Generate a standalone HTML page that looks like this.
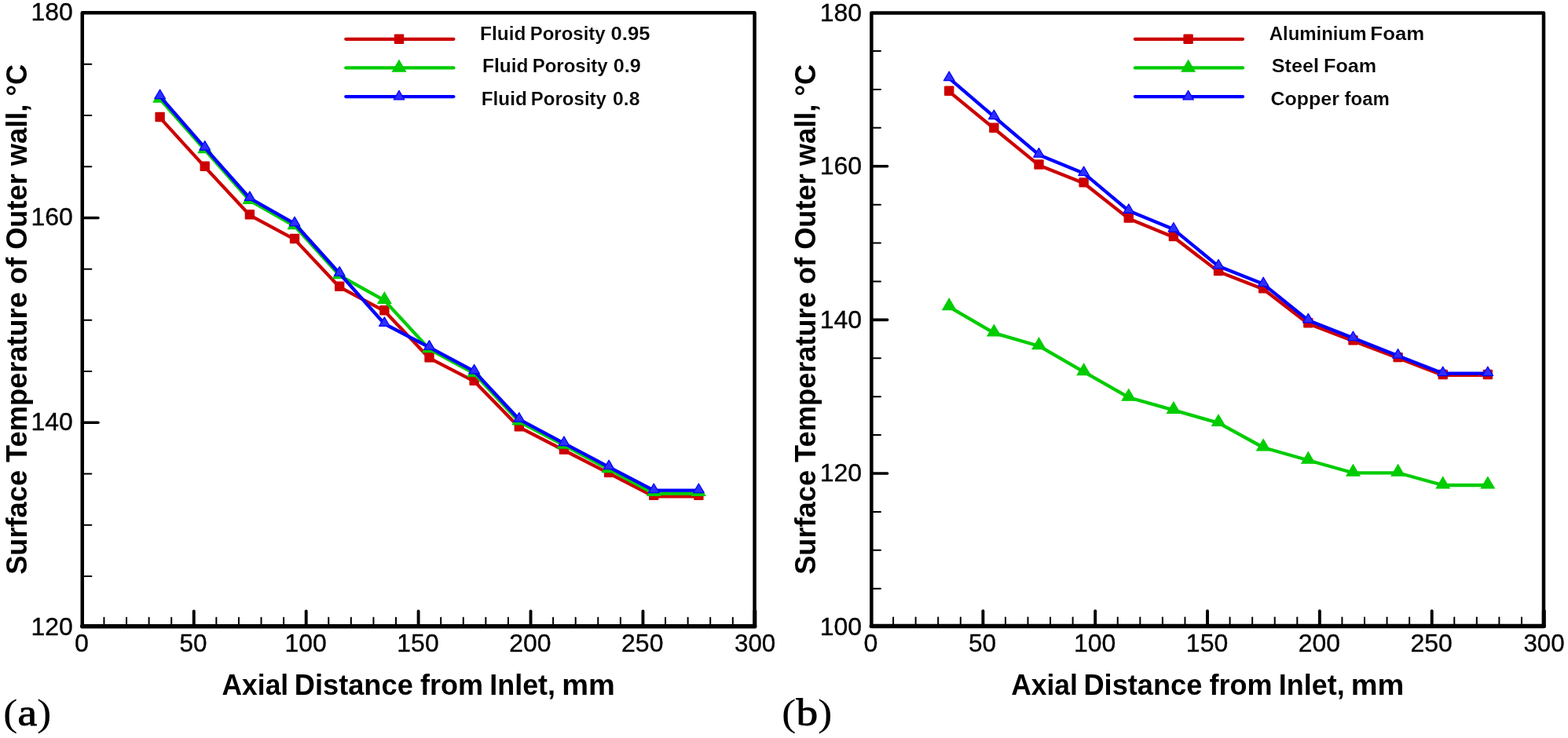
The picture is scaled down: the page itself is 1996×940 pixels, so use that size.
<!DOCTYPE html>
<html><head><meta charset="utf-8"><title>Surface temperature vs axial distance</title>
<style>
html,body{margin:0;padding:0;background:#fff;width:1996px;height:940px;overflow:hidden}
svg{display:block}
text{fill:#000}
</style></head>
<body>
<svg width="1996" height="940" viewBox="0 0 1996 940">
<rect width="1996" height="940" fill="#fff"/>
<line x1="104.75" y1="733.89" x2="116.35" y2="733.89" stroke="#000" stroke-width="2" stroke-linecap="round"/>
<line x1="104.75" y1="668.68" x2="116.35" y2="668.68" stroke="#000" stroke-width="2" stroke-linecap="round"/>
<line x1="104.75" y1="603.48" x2="116.35" y2="603.48" stroke="#000" stroke-width="2" stroke-linecap="round"/>
<line x1="104.75" y1="538.27" x2="124.95" y2="538.27" stroke="#000" stroke-width="3.6" stroke-linecap="round"/>
<line x1="104.75" y1="473.07" x2="116.35" y2="473.07" stroke="#000" stroke-width="2" stroke-linecap="round"/>
<line x1="104.75" y1="407.86" x2="116.35" y2="407.86" stroke="#000" stroke-width="2" stroke-linecap="round"/>
<line x1="104.75" y1="342.66" x2="116.35" y2="342.66" stroke="#000" stroke-width="2" stroke-linecap="round"/>
<line x1="104.75" y1="277.45" x2="124.95" y2="277.45" stroke="#000" stroke-width="3.6" stroke-linecap="round"/>
<line x1="104.75" y1="212.25" x2="116.35" y2="212.25" stroke="#000" stroke-width="2" stroke-linecap="round"/>
<line x1="104.75" y1="147.04" x2="116.35" y2="147.04" stroke="#000" stroke-width="2" stroke-linecap="round"/>
<line x1="104.75" y1="81.84" x2="116.35" y2="81.84" stroke="#000" stroke-width="2" stroke-linecap="round"/>
<line x1="132.44" y1="797.7" x2="132.44" y2="786.8" stroke="#000" stroke-width="2" stroke-linecap="round"/>
<line x1="161.03" y1="797.7" x2="161.03" y2="786.8" stroke="#000" stroke-width="2" stroke-linecap="round"/>
<line x1="189.61" y1="797.7" x2="189.61" y2="786.8" stroke="#000" stroke-width="2" stroke-linecap="round"/>
<line x1="218.2" y1="797.7" x2="218.2" y2="786.8" stroke="#000" stroke-width="2" stroke-linecap="round"/>
<line x1="246.78" y1="797.7" x2="246.78" y2="778.4" stroke="#000" stroke-width="3.9" stroke-linecap="round"/>
<line x1="275.36" y1="797.7" x2="275.36" y2="786.8" stroke="#000" stroke-width="2" stroke-linecap="round"/>
<line x1="303.95" y1="797.7" x2="303.95" y2="786.8" stroke="#000" stroke-width="2" stroke-linecap="round"/>
<line x1="332.53" y1="797.7" x2="332.53" y2="786.8" stroke="#000" stroke-width="2" stroke-linecap="round"/>
<line x1="361.12" y1="797.7" x2="361.12" y2="786.8" stroke="#000" stroke-width="2" stroke-linecap="round"/>
<line x1="389.7" y1="797.7" x2="389.7" y2="778.4" stroke="#000" stroke-width="3.9" stroke-linecap="round"/>
<line x1="418.28" y1="797.7" x2="418.28" y2="786.8" stroke="#000" stroke-width="2" stroke-linecap="round"/>
<line x1="446.87" y1="797.7" x2="446.87" y2="786.8" stroke="#000" stroke-width="2" stroke-linecap="round"/>
<line x1="475.45" y1="797.7" x2="475.45" y2="786.8" stroke="#000" stroke-width="2" stroke-linecap="round"/>
<line x1="504.04" y1="797.7" x2="504.04" y2="786.8" stroke="#000" stroke-width="2" stroke-linecap="round"/>
<line x1="532.62" y1="797.7" x2="532.62" y2="778.4" stroke="#000" stroke-width="3.9" stroke-linecap="round"/>
<line x1="561.2" y1="797.7" x2="561.2" y2="786.8" stroke="#000" stroke-width="2" stroke-linecap="round"/>
<line x1="589.79" y1="797.7" x2="589.79" y2="786.8" stroke="#000" stroke-width="2" stroke-linecap="round"/>
<line x1="618.37" y1="797.7" x2="618.37" y2="786.8" stroke="#000" stroke-width="2" stroke-linecap="round"/>
<line x1="646.96" y1="797.7" x2="646.96" y2="786.8" stroke="#000" stroke-width="2" stroke-linecap="round"/>
<line x1="675.54" y1="797.7" x2="675.54" y2="778.4" stroke="#000" stroke-width="3.9" stroke-linecap="round"/>
<line x1="704.12" y1="797.7" x2="704.12" y2="786.8" stroke="#000" stroke-width="2" stroke-linecap="round"/>
<line x1="732.71" y1="797.7" x2="732.71" y2="786.8" stroke="#000" stroke-width="2" stroke-linecap="round"/>
<line x1="761.29" y1="797.7" x2="761.29" y2="786.8" stroke="#000" stroke-width="2" stroke-linecap="round"/>
<line x1="789.88" y1="797.7" x2="789.88" y2="786.8" stroke="#000" stroke-width="2" stroke-linecap="round"/>
<line x1="818.46" y1="797.7" x2="818.46" y2="778.4" stroke="#000" stroke-width="3.9" stroke-linecap="round"/>
<line x1="847.04" y1="797.7" x2="847.04" y2="786.8" stroke="#000" stroke-width="2" stroke-linecap="round"/>
<line x1="875.63" y1="797.7" x2="875.63" y2="786.8" stroke="#000" stroke-width="2" stroke-linecap="round"/>
<line x1="904.21" y1="797.7" x2="904.21" y2="786.8" stroke="#000" stroke-width="2" stroke-linecap="round"/>
<line x1="932.8" y1="797.7" x2="932.8" y2="786.8" stroke="#000" stroke-width="2" stroke-linecap="round"/>
<line x1="960.85" y1="797.7" x2="960.85" y2="778.4" stroke="#000" stroke-width="5" stroke-linecap="round"/>
<path d="M104.75 16.3H960.55V797.7H104.75Z" fill="none" stroke="#000" stroke-width="4.5" stroke-linejoin="round"/>
<line x1="104.75" y1="797.7" x2="960.55" y2="797.7" stroke="#000" stroke-width="5.6" stroke-linecap="round"/>
<polyline points="203.61,149.9 260.76,212.6 317.91,274.1 375.06,304.9 432.21,365.7 489.36,396.1 546.51,456.2 603.66,485.6 660.81,544.2 717.96,573.5 775.11,602.8 832.26,632.3 889.41,632.3" fill="none" stroke="#cc0000" stroke-width="4.3" stroke-linejoin="round" stroke-linecap="round"/>
<rect x="197.41" y="142.8" width="12.4" height="12.4" rx="1" fill="#cc0000"/>
<rect x="254.56" y="205.5" width="12.4" height="12.4" rx="1" fill="#cc0000"/>
<rect x="311.71" y="267" width="12.4" height="12.4" rx="1" fill="#cc0000"/>
<rect x="368.86" y="297.8" width="12.4" height="12.4" rx="1" fill="#cc0000"/>
<rect x="426.01" y="358.6" width="12.4" height="12.4" rx="1" fill="#cc0000"/>
<rect x="483.16" y="389" width="12.4" height="12.4" rx="1" fill="#cc0000"/>
<rect x="540.31" y="449.1" width="12.4" height="12.4" rx="1" fill="#cc0000"/>
<rect x="597.46" y="478.5" width="12.4" height="12.4" rx="1" fill="#cc0000"/>
<rect x="654.61" y="537.1" width="12.4" height="12.4" rx="1" fill="#cc0000"/>
<rect x="711.76" y="566.4" width="12.4" height="12.4" rx="1" fill="#cc0000"/>
<rect x="768.91" y="595.7" width="12.4" height="12.4" rx="1" fill="#cc0000"/>
<rect x="826.06" y="624.6" width="12.4" height="12.4" rx="1" fill="#cc0000"/>
<rect x="883.21" y="624.6" width="12.4" height="12.4" rx="1" fill="#cc0000"/>
<polyline points="203.61,126.2 260.76,190.8 317.91,255.5 375.06,287.8 432.21,350.8 489.36,382.6 546.51,444.8 603.66,475.7 660.81,537 717.96,567.2 775.11,597.7 832.26,628.5 889.41,628.5" fill="none" stroke="#00cc00" stroke-width="4.3" stroke-linejoin="round" stroke-linecap="round"/>
<polygon points="203.61,114.5 194.11,130.7 213.11,130.7" fill="#00cc00"/>
<polygon points="260.76,179.1 251.26,195.3 270.26,195.3" fill="#00cc00"/>
<polygon points="317.91,243.8 308.41,260 327.41,260" fill="#00cc00"/>
<polygon points="375.06,276.1 365.56,292.3 384.56,292.3" fill="#00cc00"/>
<polygon points="432.21,339.1 422.71,355.3 441.71,355.3" fill="#00cc00"/>
<polygon points="489.36,370.9 479.86,387.1 498.86,387.1" fill="#00cc00"/>
<polygon points="546.51,433.1 537.01,449.3 556.01,449.3" fill="#00cc00"/>
<polygon points="603.66,464 594.16,480.2 613.16,480.2" fill="#00cc00"/>
<polygon points="660.81,525.3 651.31,541.5 670.31,541.5" fill="#00cc00"/>
<polygon points="717.96,555.5 708.46,571.7 727.46,571.7" fill="#00cc00"/>
<polygon points="775.11,586 765.61,602.2 784.61,602.2" fill="#00cc00"/>
<polygon points="832.26,615.9 822.76,632.1 841.76,632.1" fill="#00cc00"/>
<polygon points="889.41,615.7 879.91,631.9 898.91,631.9" fill="#00cc00"/>
<polyline points="203.61,122.7 260.76,188.2 317.91,252.5 375.06,284.8 432.21,348.3 489.36,412.5 546.51,442.3 603.66,472.9 660.81,534.2 717.96,564.6 775.11,594.8 832.26,624.6 889.41,624.6" fill="none" stroke="#0000ff" stroke-width="4.3" stroke-linejoin="round" stroke-linecap="round"/>
<polygon points="203.61,114.07 196.81,125.67 210.41,125.67" fill="#2e2eff" stroke="#0000ff" stroke-width="1.2" stroke-linejoin="round"/>
<polygon points="260.76,179.57 253.96,191.17 267.56,191.17" fill="#2e2eff" stroke="#0000ff" stroke-width="1.2" stroke-linejoin="round"/>
<polygon points="317.91,243.87 311.11,255.47 324.71,255.47" fill="#2e2eff" stroke="#0000ff" stroke-width="1.2" stroke-linejoin="round"/>
<polygon points="375.06,276.17 368.26,287.77 381.86,287.77" fill="#2e2eff" stroke="#0000ff" stroke-width="1.2" stroke-linejoin="round"/>
<polygon points="432.21,339.67 425.41,351.27 439.01,351.27" fill="#2e2eff" stroke="#0000ff" stroke-width="1.2" stroke-linejoin="round"/>
<polygon points="489.36,403.87 482.56,415.47 496.16,415.47" fill="#2e2eff" stroke="#0000ff" stroke-width="1.2" stroke-linejoin="round"/>
<polygon points="546.51,433.67 539.71,445.27 553.31,445.27" fill="#2e2eff" stroke="#0000ff" stroke-width="1.2" stroke-linejoin="round"/>
<polygon points="603.66,464.27 596.86,475.87 610.46,475.87" fill="#2e2eff" stroke="#0000ff" stroke-width="1.2" stroke-linejoin="round"/>
<polygon points="660.81,525.57 654.01,537.17 667.61,537.17" fill="#2e2eff" stroke="#0000ff" stroke-width="1.2" stroke-linejoin="round"/>
<polygon points="717.96,555.97 711.16,567.57 724.76,567.57" fill="#2e2eff" stroke="#0000ff" stroke-width="1.2" stroke-linejoin="round"/>
<polygon points="775.11,586.17 768.31,597.77 781.91,597.77" fill="#2e2eff" stroke="#0000ff" stroke-width="1.2" stroke-linejoin="round"/>
<polygon points="832.26,615.97 825.46,627.57 839.06,627.57" fill="#2e2eff" stroke="#0000ff" stroke-width="1.2" stroke-linejoin="round"/>
<polygon points="889.41,615.97 882.61,627.57 896.21,627.57" fill="#2e2eff" stroke="#0000ff" stroke-width="1.2" stroke-linejoin="round"/>
<line x1="440.3" y1="49.8" x2="577.4" y2="49.8" stroke="#cc0000" stroke-width="4.3" stroke-linecap="round"/>
<rect x="501.8" y="43.6" width="12.4" height="12.4" rx="1" fill="#cc0000"/>
<line x1="440.3" y1="86.4" x2="577.4" y2="86.4" stroke="#00cc00" stroke-width="4.3" stroke-linecap="round"/>
<polygon points="508,75.6 498.5,91.8 517.5,91.8" fill="#00cc00"/>
<line x1="440.3" y1="123.1" x2="577.4" y2="123.1" stroke="#0000ff" stroke-width="4.3" stroke-linecap="round"/>
<polygon points="508,115.37 501.2,126.97 514.8,126.97" fill="#2e2eff" stroke="#0000ff" stroke-width="1.2" stroke-linejoin="round"/>
<line x1="1109.35" y1="749.74" x2="1120.95" y2="749.74" stroke="#000" stroke-width="2" stroke-linecap="round"/>
<line x1="1109.35" y1="700.83" x2="1120.95" y2="700.83" stroke="#000" stroke-width="2" stroke-linecap="round"/>
<line x1="1109.35" y1="651.92" x2="1120.95" y2="651.92" stroke="#000" stroke-width="2" stroke-linecap="round"/>
<line x1="1109.35" y1="603.02" x2="1129.55" y2="603.02" stroke="#000" stroke-width="3.6" stroke-linecap="round"/>
<line x1="1109.35" y1="554.12" x2="1120.95" y2="554.12" stroke="#000" stroke-width="2" stroke-linecap="round"/>
<line x1="1109.35" y1="505.21" x2="1120.95" y2="505.21" stroke="#000" stroke-width="2" stroke-linecap="round"/>
<line x1="1109.35" y1="456.3" x2="1120.95" y2="456.3" stroke="#000" stroke-width="2" stroke-linecap="round"/>
<line x1="1109.35" y1="407.4" x2="1129.55" y2="407.4" stroke="#000" stroke-width="3.6" stroke-linecap="round"/>
<line x1="1109.35" y1="358.5" x2="1120.95" y2="358.5" stroke="#000" stroke-width="2" stroke-linecap="round"/>
<line x1="1109.35" y1="309.59" x2="1120.95" y2="309.59" stroke="#000" stroke-width="2" stroke-linecap="round"/>
<line x1="1109.35" y1="260.68" x2="1120.95" y2="260.68" stroke="#000" stroke-width="2" stroke-linecap="round"/>
<line x1="1109.35" y1="211.78" x2="1129.55" y2="211.78" stroke="#000" stroke-width="3.6" stroke-linecap="round"/>
<line x1="1109.35" y1="162.87" x2="1120.95" y2="162.87" stroke="#000" stroke-width="2" stroke-linecap="round"/>
<line x1="1109.35" y1="113.97" x2="1120.95" y2="113.97" stroke="#000" stroke-width="2" stroke-linecap="round"/>
<line x1="1109.35" y1="65.06" x2="1120.95" y2="65.06" stroke="#000" stroke-width="2" stroke-linecap="round"/>
<line x1="1137.07" y1="797.5" x2="1137.07" y2="786.6" stroke="#000" stroke-width="2" stroke-linecap="round"/>
<line x1="1165.64" y1="797.5" x2="1165.64" y2="786.6" stroke="#000" stroke-width="2" stroke-linecap="round"/>
<line x1="1194.2" y1="797.5" x2="1194.2" y2="786.6" stroke="#000" stroke-width="2" stroke-linecap="round"/>
<line x1="1222.77" y1="797.5" x2="1222.77" y2="786.6" stroke="#000" stroke-width="2" stroke-linecap="round"/>
<line x1="1251.34" y1="797.5" x2="1251.34" y2="778.2" stroke="#000" stroke-width="3.9" stroke-linecap="round"/>
<line x1="1279.91" y1="797.5" x2="1279.91" y2="786.6" stroke="#000" stroke-width="2" stroke-linecap="round"/>
<line x1="1308.48" y1="797.5" x2="1308.48" y2="786.6" stroke="#000" stroke-width="2" stroke-linecap="round"/>
<line x1="1337.04" y1="797.5" x2="1337.04" y2="786.6" stroke="#000" stroke-width="2" stroke-linecap="round"/>
<line x1="1365.61" y1="797.5" x2="1365.61" y2="786.6" stroke="#000" stroke-width="2" stroke-linecap="round"/>
<line x1="1394.18" y1="797.5" x2="1394.18" y2="778.2" stroke="#000" stroke-width="3.9" stroke-linecap="round"/>
<line x1="1422.75" y1="797.5" x2="1422.75" y2="786.6" stroke="#000" stroke-width="2" stroke-linecap="round"/>
<line x1="1451.32" y1="797.5" x2="1451.32" y2="786.6" stroke="#000" stroke-width="2" stroke-linecap="round"/>
<line x1="1479.88" y1="797.5" x2="1479.88" y2="786.6" stroke="#000" stroke-width="2" stroke-linecap="round"/>
<line x1="1508.45" y1="797.5" x2="1508.45" y2="786.6" stroke="#000" stroke-width="2" stroke-linecap="round"/>
<line x1="1537.02" y1="797.5" x2="1537.02" y2="778.2" stroke="#000" stroke-width="3.9" stroke-linecap="round"/>
<line x1="1565.59" y1="797.5" x2="1565.59" y2="786.6" stroke="#000" stroke-width="2" stroke-linecap="round"/>
<line x1="1594.16" y1="797.5" x2="1594.16" y2="786.6" stroke="#000" stroke-width="2" stroke-linecap="round"/>
<line x1="1622.72" y1="797.5" x2="1622.72" y2="786.6" stroke="#000" stroke-width="2" stroke-linecap="round"/>
<line x1="1651.29" y1="797.5" x2="1651.29" y2="786.6" stroke="#000" stroke-width="2" stroke-linecap="round"/>
<line x1="1679.86" y1="797.5" x2="1679.86" y2="778.2" stroke="#000" stroke-width="3.9" stroke-linecap="round"/>
<line x1="1708.43" y1="797.5" x2="1708.43" y2="786.6" stroke="#000" stroke-width="2" stroke-linecap="round"/>
<line x1="1737" y1="797.5" x2="1737" y2="786.6" stroke="#000" stroke-width="2" stroke-linecap="round"/>
<line x1="1765.56" y1="797.5" x2="1765.56" y2="786.6" stroke="#000" stroke-width="2" stroke-linecap="round"/>
<line x1="1794.13" y1="797.5" x2="1794.13" y2="786.6" stroke="#000" stroke-width="2" stroke-linecap="round"/>
<line x1="1822.7" y1="797.5" x2="1822.7" y2="778.2" stroke="#000" stroke-width="3.9" stroke-linecap="round"/>
<line x1="1851.27" y1="797.5" x2="1851.27" y2="786.6" stroke="#000" stroke-width="2" stroke-linecap="round"/>
<line x1="1879.84" y1="797.5" x2="1879.84" y2="786.6" stroke="#000" stroke-width="2" stroke-linecap="round"/>
<line x1="1908.4" y1="797.5" x2="1908.4" y2="786.6" stroke="#000" stroke-width="2" stroke-linecap="round"/>
<line x1="1936.97" y1="797.5" x2="1936.97" y2="786.6" stroke="#000" stroke-width="2" stroke-linecap="round"/>
<line x1="1965.3" y1="797.5" x2="1965.3" y2="778.2" stroke="#000" stroke-width="5" stroke-linecap="round"/>
<path d="M1109.35 16.4H1965V797.5H1109.35Z" fill="none" stroke="#000" stroke-width="4.5" stroke-linejoin="round"/>
<line x1="1109.35" y1="797.5" x2="1965" y2="797.5" stroke="#000" stroke-width="5.6" stroke-linecap="round"/>
<polyline points="1208.2,116.6 1265.34,163.7 1322.48,210.4 1379.62,233.3 1436.76,278.4 1493.89,302 1551.04,345.9 1608.18,368.2 1665.32,412.2 1722.45,434.3 1779.6,456 1836.74,477.9 1893.88,477.9" fill="none" stroke="#cc0000" stroke-width="4.3" stroke-linejoin="round" stroke-linecap="round"/>
<rect x="1202" y="109.5" width="12.4" height="12.4" rx="1" fill="#cc0000"/>
<rect x="1259.13" y="156.6" width="12.4" height="12.4" rx="1" fill="#cc0000"/>
<rect x="1316.28" y="203.3" width="12.4" height="12.4" rx="1" fill="#cc0000"/>
<rect x="1373.41" y="226.2" width="12.4" height="12.4" rx="1" fill="#cc0000"/>
<rect x="1430.56" y="271.3" width="12.4" height="12.4" rx="1" fill="#cc0000"/>
<rect x="1487.69" y="294.9" width="12.4" height="12.4" rx="1" fill="#cc0000"/>
<rect x="1544.84" y="338.8" width="12.4" height="12.4" rx="1" fill="#cc0000"/>
<rect x="1601.98" y="361.1" width="12.4" height="12.4" rx="1" fill="#cc0000"/>
<rect x="1659.12" y="405.1" width="12.4" height="12.4" rx="1" fill="#cc0000"/>
<rect x="1716.25" y="427.2" width="12.4" height="12.4" rx="1" fill="#cc0000"/>
<rect x="1773.4" y="448.9" width="12.4" height="12.4" rx="1" fill="#cc0000"/>
<rect x="1830.54" y="470.8" width="12.4" height="12.4" rx="1" fill="#cc0000"/>
<rect x="1887.67" y="470.8" width="12.4" height="12.4" rx="1" fill="#cc0000"/>
<polyline points="1208.2,390.8 1265.34,424.1 1322.48,440.7 1379.62,473.7 1436.76,506.2 1493.89,522.4 1551.04,538.6 1608.18,570 1665.32,586.2 1722.45,602.3 1779.6,602.3 1836.74,618 1893.88,618" fill="none" stroke="#00cc00" stroke-width="4.3" stroke-linejoin="round" stroke-linecap="round"/>
<polygon points="1208.2,379.1 1198.7,395.3 1217.7,395.3" fill="#00cc00"/>
<polygon points="1265.34,412.4 1255.84,428.6 1274.84,428.6" fill="#00cc00"/>
<polygon points="1322.48,429 1312.98,445.2 1331.98,445.2" fill="#00cc00"/>
<polygon points="1379.62,462 1370.12,478.2 1389.12,478.2" fill="#00cc00"/>
<polygon points="1436.76,494.5 1427.26,510.7 1446.26,510.7" fill="#00cc00"/>
<polygon points="1493.89,510.7 1484.39,526.9 1503.39,526.9" fill="#00cc00"/>
<polygon points="1551.04,526.9 1541.54,543.1 1560.54,543.1" fill="#00cc00"/>
<polygon points="1608.18,558.3 1598.68,574.5 1617.68,574.5" fill="#00cc00"/>
<polygon points="1665.32,574.5 1655.82,590.7 1674.82,590.7" fill="#00cc00"/>
<polygon points="1722.45,590.6 1712.95,606.8 1731.95,606.8" fill="#00cc00"/>
<polygon points="1779.6,590.6 1770.1,606.8 1789.1,606.8" fill="#00cc00"/>
<polygon points="1836.74,606.3 1827.24,622.5 1846.24,622.5" fill="#00cc00"/>
<polygon points="1893.88,606.3 1884.38,622.5 1903.38,622.5" fill="#00cc00"/>
<polyline points="1208.2,99.7 1265.34,148.7 1322.48,197.2 1379.62,220.7 1436.76,268.5 1493.89,292.1 1551.04,339.1 1608.18,361.8 1665.32,408 1722.45,430.6 1779.6,453.2 1836.74,475.6 1893.88,475.6" fill="none" stroke="#0000ff" stroke-width="4.3" stroke-linejoin="round" stroke-linecap="round"/>
<polygon points="1208.2,91.07 1201.4,102.67 1215,102.67" fill="#2e2eff" stroke="#0000ff" stroke-width="1.2" stroke-linejoin="round"/>
<polygon points="1265.34,140.07 1258.54,151.67 1272.13,151.67" fill="#2e2eff" stroke="#0000ff" stroke-width="1.2" stroke-linejoin="round"/>
<polygon points="1322.48,188.57 1315.68,200.17 1329.28,200.17" fill="#2e2eff" stroke="#0000ff" stroke-width="1.2" stroke-linejoin="round"/>
<polygon points="1379.62,212.07 1372.82,223.67 1386.41,223.67" fill="#2e2eff" stroke="#0000ff" stroke-width="1.2" stroke-linejoin="round"/>
<polygon points="1436.76,259.87 1429.96,271.47 1443.56,271.47" fill="#2e2eff" stroke="#0000ff" stroke-width="1.2" stroke-linejoin="round"/>
<polygon points="1493.89,283.47 1487.1,295.07 1500.69,295.07" fill="#2e2eff" stroke="#0000ff" stroke-width="1.2" stroke-linejoin="round"/>
<polygon points="1551.04,330.47 1544.24,342.07 1557.84,342.07" fill="#2e2eff" stroke="#0000ff" stroke-width="1.2" stroke-linejoin="round"/>
<polygon points="1608.18,353.17 1601.38,364.77 1614.98,364.77" fill="#2e2eff" stroke="#0000ff" stroke-width="1.2" stroke-linejoin="round"/>
<polygon points="1665.32,399.37 1658.52,410.97 1672.12,410.97" fill="#2e2eff" stroke="#0000ff" stroke-width="1.2" stroke-linejoin="round"/>
<polygon points="1722.45,421.97 1715.65,433.57 1729.25,433.57" fill="#2e2eff" stroke="#0000ff" stroke-width="1.2" stroke-linejoin="round"/>
<polygon points="1779.6,444.57 1772.8,456.17 1786.4,456.17" fill="#2e2eff" stroke="#0000ff" stroke-width="1.2" stroke-linejoin="round"/>
<polygon points="1836.74,466.97 1829.94,478.57 1843.54,478.57" fill="#2e2eff" stroke="#0000ff" stroke-width="1.2" stroke-linejoin="round"/>
<polygon points="1893.88,466.97 1887.08,478.57 1900.67,478.57" fill="#2e2eff" stroke="#0000ff" stroke-width="1.2" stroke-linejoin="round"/>
<line x1="1444.9" y1="49.8" x2="1582" y2="49.8" stroke="#cc0000" stroke-width="4.3" stroke-linecap="round"/>
<rect x="1506.4" y="43.6" width="12.4" height="12.4" rx="1" fill="#cc0000"/>
<line x1="1444.9" y1="86.4" x2="1582" y2="86.4" stroke="#00cc00" stroke-width="4.3" stroke-linecap="round"/>
<polygon points="1512.6,75.6 1503.1,91.8 1522.1,91.8" fill="#00cc00"/>
<line x1="1444.9" y1="123.1" x2="1582" y2="123.1" stroke="#0000ff" stroke-width="4.3" stroke-linecap="round"/>
<polygon points="1512.6,115.37 1505.8,126.97 1519.4,126.97" fill="#2e2eff" stroke="#0000ff" stroke-width="1.2" stroke-linejoin="round"/>
<text x="611" y="50.6" textLength="58.52" lengthAdjust="spacingAndGlyphs" style="font-family:&quot;Liberation Sans&quot;,sans-serif;font-size:24.5px;font-weight:bold" stroke="#fff" stroke-width="0.15">Fluid</text>
<text x="674.64" y="50.6" textLength="96.09" lengthAdjust="spacingAndGlyphs" style="font-family:&quot;Liberation Sans&quot;,sans-serif;font-size:24.5px;font-weight:bold" stroke="#fff" stroke-width="0.15">Porosity</text>
<text x="777.55" y="50.6" textLength="50.07" lengthAdjust="spacingAndGlyphs" style="font-family:&quot;Liberation Sans&quot;,sans-serif;font-size:24.5px;font-weight:bold" stroke="#fff" stroke-width="0.15">0.95</text>
<text x="614" y="91.7" textLength="58.52" lengthAdjust="spacingAndGlyphs" style="font-family:&quot;Liberation Sans&quot;,sans-serif;font-size:24.5px;font-weight:bold" stroke="#fff" stroke-width="0.15">Fluid</text>
<text x="677.64" y="91.7" textLength="96.09" lengthAdjust="spacingAndGlyphs" style="font-family:&quot;Liberation Sans&quot;,sans-serif;font-size:24.5px;font-weight:bold" stroke="#fff" stroke-width="0.15">Porosity</text>
<text x="780.67" y="91.7" textLength="35.13" lengthAdjust="spacingAndGlyphs" style="font-family:&quot;Liberation Sans&quot;,sans-serif;font-size:24.5px;font-weight:bold" stroke="#fff" stroke-width="0.15">0.9</text>
<text x="612.82" y="133.8" textLength="57.88" lengthAdjust="spacingAndGlyphs" style="font-family:&quot;Liberation Sans&quot;,sans-serif;font-size:24.5px;font-weight:bold" stroke="#fff" stroke-width="0.15">Fluid</text>
<text x="675.84" y="133.8" textLength="96.09" lengthAdjust="spacingAndGlyphs" style="font-family:&quot;Liberation Sans&quot;,sans-serif;font-size:24.5px;font-weight:bold" stroke="#fff" stroke-width="0.15">Porosity</text>
<text x="780.09" y="133.8" textLength="34.49" lengthAdjust="spacingAndGlyphs" style="font-family:&quot;Liberation Sans&quot;,sans-serif;font-size:24.5px;font-weight:bold" stroke="#fff" stroke-width="0.15">0.8</text>
<text x="282.56" y="884.8" textLength="84.61" lengthAdjust="spacingAndGlyphs" style="font-family:&quot;Liberation Sans&quot;,sans-serif;font-size:37.6px;font-weight:bold">Axial</text>
<text x="374.81" y="884.8" textLength="150.99" lengthAdjust="spacingAndGlyphs" style="font-family:&quot;Liberation Sans&quot;,sans-serif;font-size:37.6px;font-weight:bold">Distance</text>
<text x="534.94" y="884.8" textLength="80.18" lengthAdjust="spacingAndGlyphs" style="font-family:&quot;Liberation Sans&quot;,sans-serif;font-size:37.6px;font-weight:bold">from</text>
<text x="623.23" y="884.8" textLength="83.85" lengthAdjust="spacingAndGlyphs" style="font-family:&quot;Liberation Sans&quot;,sans-serif;font-size:37.6px;font-weight:bold">Inlet,</text>
<text x="715.17" y="884.8" textLength="67.58" lengthAdjust="spacingAndGlyphs" style="font-family:&quot;Liberation Sans&quot;,sans-serif;font-size:37.6px;font-weight:bold">mm</text>
<text transform="translate(33.8,730.9) rotate(-90)" x="-0.96" y="0" textLength="649.94" lengthAdjust="spacingAndGlyphs" style="font-family:&quot;Liberation Sans&quot;,sans-serif;font-size:37.6px;font-weight:bold">Surface Temperature of Outer wall, °C</text>
<text x="39.57" y="808.54" textLength="53.31" lengthAdjust="spacingAndGlyphs" style="font-family:&quot;Liberation Sans&quot;,sans-serif;font-size:31.5px;font-weight:normal" stroke="#000" stroke-width="0.35">120</text>
<text x="39.57" y="547.72" textLength="53.31" lengthAdjust="spacingAndGlyphs" style="font-family:&quot;Liberation Sans&quot;,sans-serif;font-size:31.5px;font-weight:normal" stroke="#000" stroke-width="0.35">140</text>
<text x="39.57" y="286.9" textLength="53.31" lengthAdjust="spacingAndGlyphs" style="font-family:&quot;Liberation Sans&quot;,sans-serif;font-size:31.5px;font-weight:normal" stroke="#000" stroke-width="0.35">160</text>
<text x="39.57" y="26.08" textLength="53.31" lengthAdjust="spacingAndGlyphs" style="font-family:&quot;Liberation Sans&quot;,sans-serif;font-size:31.5px;font-weight:normal" stroke="#000" stroke-width="0.35">180</text>
<text x="94.93" y="829.7" textLength="17.88" lengthAdjust="spacingAndGlyphs" style="font-family:&quot;Liberation Sans&quot;,sans-serif;font-size:31.5px;font-weight:normal" stroke="#000" stroke-width="0.35">0</text>
<text x="228.47" y="829.7" textLength="35.05" lengthAdjust="spacingAndGlyphs" style="font-family:&quot;Liberation Sans&quot;,sans-serif;font-size:31.5px;font-weight:normal" stroke="#000" stroke-width="0.35">50</text>
<text x="362.47" y="829.7" textLength="53.31" lengthAdjust="spacingAndGlyphs" style="font-family:&quot;Liberation Sans&quot;,sans-serif;font-size:31.5px;font-weight:normal" stroke="#000" stroke-width="0.35">100</text>
<text x="505.35" y="829.7" textLength="53.31" lengthAdjust="spacingAndGlyphs" style="font-family:&quot;Liberation Sans&quot;,sans-serif;font-size:31.5px;font-weight:normal" stroke="#000" stroke-width="0.35">150</text>
<text x="648.22" y="829.7" textLength="53.31" lengthAdjust="spacingAndGlyphs" style="font-family:&quot;Liberation Sans&quot;,sans-serif;font-size:31.5px;font-weight:normal" stroke="#000" stroke-width="0.35">200</text>
<text x="791.1" y="829.7" textLength="53.31" lengthAdjust="spacingAndGlyphs" style="font-family:&quot;Liberation Sans&quot;,sans-serif;font-size:31.5px;font-weight:normal" stroke="#000" stroke-width="0.35">250</text>
<text x="935.01" y="829.7" textLength="52.25" lengthAdjust="spacingAndGlyphs" style="font-family:&quot;Liberation Sans&quot;,sans-serif;font-size:31.5px;font-weight:normal" stroke="#000" stroke-width="0.35">300</text>
<text x="4.09" y="924.2" textLength="61.44" lengthAdjust="spacingAndGlyphs" style="font-family:&quot;Liberation Serif&quot;,serif;font-size:48px;font-weight:normal">(<tspan stroke="#000" stroke-width="0.9">a</tspan>)</text>
<text x="1615.72" y="50.6" textLength="123.74" lengthAdjust="spacingAndGlyphs" style="font-family:&quot;Liberation Sans&quot;,sans-serif;font-size:24.5px;font-weight:bold" stroke="#fff" stroke-width="0.15">Aluminium</text>
<text x="1744.39" y="50.6" textLength="68.93" lengthAdjust="spacingAndGlyphs" style="font-family:&quot;Liberation Sans&quot;,sans-serif;font-size:24.5px;font-weight:bold" stroke="#fff" stroke-width="0.15">Foam</text>
<text x="1618.77" y="91.7" textLength="60.13" lengthAdjust="spacingAndGlyphs" style="font-family:&quot;Liberation Sans&quot;,sans-serif;font-size:24.5px;font-weight:bold" stroke="#fff" stroke-width="0.15">Steel</text>
<text x="1685.05" y="91.7" textLength="67.14" lengthAdjust="spacingAndGlyphs" style="font-family:&quot;Liberation Sans&quot;,sans-serif;font-size:24.5px;font-weight:bold" stroke="#fff" stroke-width="0.15">Foam</text>
<text x="1617.58" y="133.8" textLength="87.38" lengthAdjust="spacingAndGlyphs" style="font-family:&quot;Liberation Sans&quot;,sans-serif;font-size:24.5px;font-weight:bold" stroke="#fff" stroke-width="0.15">Copper</text>
<text x="1711.6" y="133.8" textLength="57.21" lengthAdjust="spacingAndGlyphs" style="font-family:&quot;Liberation Sans&quot;,sans-serif;font-size:24.5px;font-weight:bold" stroke="#fff" stroke-width="0.15">foam</text>
<text x="1287.16" y="884.8" textLength="84.61" lengthAdjust="spacingAndGlyphs" style="font-family:&quot;Liberation Sans&quot;,sans-serif;font-size:37.6px;font-weight:bold">Axial</text>
<text x="1379.41" y="884.8" textLength="150.99" lengthAdjust="spacingAndGlyphs" style="font-family:&quot;Liberation Sans&quot;,sans-serif;font-size:37.6px;font-weight:bold">Distance</text>
<text x="1539.54" y="884.8" textLength="80.18" lengthAdjust="spacingAndGlyphs" style="font-family:&quot;Liberation Sans&quot;,sans-serif;font-size:37.6px;font-weight:bold">from</text>
<text x="1627.83" y="884.8" textLength="83.85" lengthAdjust="spacingAndGlyphs" style="font-family:&quot;Liberation Sans&quot;,sans-serif;font-size:37.6px;font-weight:bold">Inlet,</text>
<text x="1719.77" y="884.8" textLength="67.58" lengthAdjust="spacingAndGlyphs" style="font-family:&quot;Liberation Sans&quot;,sans-serif;font-size:37.6px;font-weight:bold">mm</text>
<text transform="translate(1038.4,730.9) rotate(-90)" x="-0.96" y="0" textLength="649.94" lengthAdjust="spacingAndGlyphs" style="font-family:&quot;Liberation Sans&quot;,sans-serif;font-size:37.6px;font-weight:bold">Surface Temperature of Outer wall, °C</text>
<text x="1043.67" y="808.99" textLength="53.31" lengthAdjust="spacingAndGlyphs" style="font-family:&quot;Liberation Sans&quot;,sans-serif;font-size:31.5px;font-weight:normal" stroke="#000" stroke-width="0.35">100</text>
<text x="1043.67" y="613.37" textLength="53.31" lengthAdjust="spacingAndGlyphs" style="font-family:&quot;Liberation Sans&quot;,sans-serif;font-size:31.5px;font-weight:normal" stroke="#000" stroke-width="0.35">120</text>
<text x="1043.67" y="417.75" textLength="53.31" lengthAdjust="spacingAndGlyphs" style="font-family:&quot;Liberation Sans&quot;,sans-serif;font-size:31.5px;font-weight:normal" stroke="#000" stroke-width="0.35">140</text>
<text x="1043.67" y="222.13" textLength="53.31" lengthAdjust="spacingAndGlyphs" style="font-family:&quot;Liberation Sans&quot;,sans-serif;font-size:31.5px;font-weight:normal" stroke="#000" stroke-width="0.35">160</text>
<text x="1043.67" y="26.51" textLength="53.31" lengthAdjust="spacingAndGlyphs" style="font-family:&quot;Liberation Sans&quot;,sans-serif;font-size:31.5px;font-weight:normal" stroke="#000" stroke-width="0.35">180</text>
<text x="1099.53" y="829.7" textLength="17.88" lengthAdjust="spacingAndGlyphs" style="font-family:&quot;Liberation Sans&quot;,sans-serif;font-size:31.5px;font-weight:normal" stroke="#000" stroke-width="0.35">0</text>
<text x="1233.05" y="829.7" textLength="35.05" lengthAdjust="spacingAndGlyphs" style="font-family:&quot;Liberation Sans&quot;,sans-serif;font-size:31.5px;font-weight:normal" stroke="#000" stroke-width="0.35">50</text>
<text x="1367.02" y="829.7" textLength="53.31" lengthAdjust="spacingAndGlyphs" style="font-family:&quot;Liberation Sans&quot;,sans-serif;font-size:31.5px;font-weight:normal" stroke="#000" stroke-width="0.35">100</text>
<text x="1509.87" y="829.7" textLength="53.31" lengthAdjust="spacingAndGlyphs" style="font-family:&quot;Liberation Sans&quot;,sans-serif;font-size:31.5px;font-weight:normal" stroke="#000" stroke-width="0.35">150</text>
<text x="1652.72" y="829.7" textLength="53.31" lengthAdjust="spacingAndGlyphs" style="font-family:&quot;Liberation Sans&quot;,sans-serif;font-size:31.5px;font-weight:normal" stroke="#000" stroke-width="0.35">200</text>
<text x="1795.57" y="829.7" textLength="53.31" lengthAdjust="spacingAndGlyphs" style="font-family:&quot;Liberation Sans&quot;,sans-serif;font-size:31.5px;font-weight:normal" stroke="#000" stroke-width="0.35">250</text>
<text x="1939.46" y="829.7" textLength="52.25" lengthAdjust="spacingAndGlyphs" style="font-family:&quot;Liberation Sans&quot;,sans-serif;font-size:31.5px;font-weight:normal" stroke="#000" stroke-width="0.35">300</text>
<text x="995" y="924.2" textLength="64.47" lengthAdjust="spacingAndGlyphs" style="font-family:&quot;Liberation Serif&quot;,serif;font-size:48px;font-weight:normal">(<tspan stroke="#000" stroke-width="0.9">b</tspan>)</text>
</svg>
</body></html>
